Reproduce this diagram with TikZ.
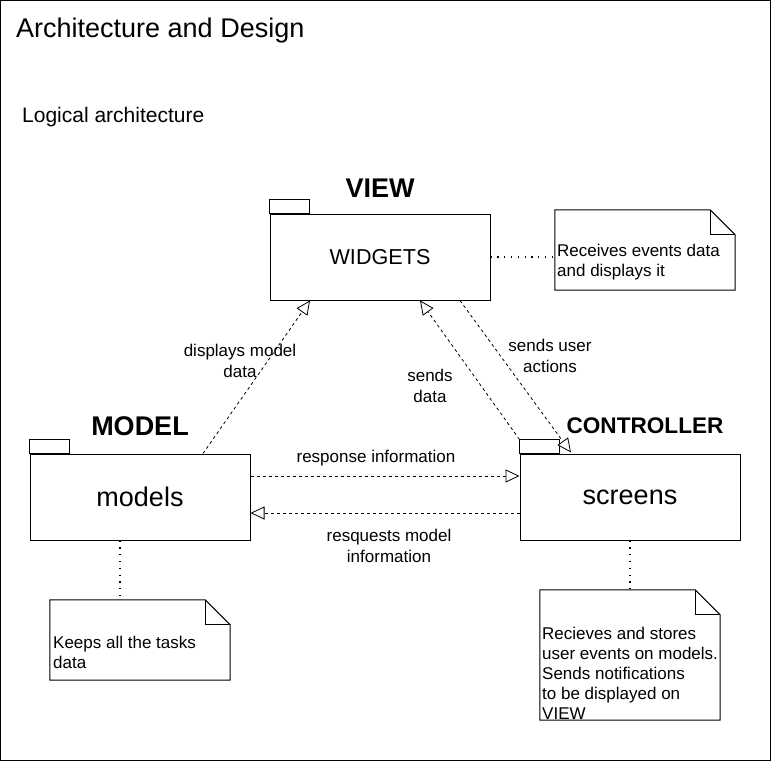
\documentclass[tikz,border=0pt]{standalone}
\usepackage{fontspec}
\setmainfont{Liberation Sans}
\usetikzlibrary{arrows.meta}

\tikzset{
  pkg/.style={draw, line width=1pt, minimum width=220pt, minimum height=86pt, inner sep=0pt},
  pkgname/.style={font=\bfseries\fontsize{27}{32}\selectfont},
  notebox/.style={minimum width=180pt, minimum height=80pt, inner sep=0pt},
  notetext/.style={anchor=west, align=left, inner sep=0pt, font=\fontsize{17}{20}\selectfont},
  flow/.style={draw, line width=0.8pt, dash pattern=on 3pt off 3pt, -{Triangle[open, length=14pt, width=13pt, fill=white]}},
  link/.style={draw, line width=1.3pt, dash pattern=on 1.3pt off 5.5pt},
  lbl/.style={align=center, inner sep=0pt, font=\fontsize{17}{21}\selectfont}
}

\begin{document}
\begin{tikzpicture}[x=1pt, y=-1pt]
  \useasboundingbox (0,0) rectangle (771,761);
  \draw[line width=1pt] (0.5,0.5) rectangle (770.5,760.5);
  % headings
  \node[anchor=west, inner sep=0pt, font=\fontsize{27}{32}\selectfont] (title) at (16,31) {Architecture and Design};
  \node[anchor=west, inner sep=0pt, font=\fontsize{21}{25}\selectfont] (logic) at (22,117) {Logical architecture};

  % packages
  \node[pkg, font=\fontsize{21.6}{26}\selectfont] (view) at (380,257) {WIDGETS};
  \node[pkg, font=\fontsize{27}{32}\selectfont] (model) at (140,497) {models};
  \node[pkg, font=\fontsize{27}{32}\selectfont] (ctrl) at (630,497) {screens};
  \foreach \p in {view,model,ctrl}
    \draw[line width=1pt] (\p.north west) rectangle ++(40,-14);
  \node[pkgname] (viewname) at (380,188) {VIEW};
  \node[pkgname] (modelname) at (140,426) {MODEL};
  \node[pkgname, font=\bfseries\fontsize{22.6}{27}\selectfont] (ctrlname) at (645,426) {CONTROLLER};

  % notes
  \node[notebox] (vnote) at (645,250) {};
  \node[notebox] (mnote) at (140,640) {};
  \node[notebox, minimum height=130pt] (cnote) at (630,655) {};
  \foreach \n in {vnote,mnote,cnote}{
    \draw[line width=1pt] (\n.north west) -- ([xshift=-25pt]\n.north east) -- ([yshift=-25pt]\n.north east)
      -- (\n.south east) -- (\n.south west) -- cycle;
    \draw[line width=1pt] ([xshift=-25pt]\n.north east) |- ([yshift=-25pt]\n.north east);
  }
  \node[notetext] (vtext) at (557,262) {Receives events data\\and displays it};
  \node[notetext] (mtext) at (53,652) {Keeps all the tasks\\data};
  \node[notetext] (ctext) at (542,673) {Recieves and stores\\user events on models.\\Sends notifications\\to be displayed on\\VIEW};

  % note links
  \draw[link] (view.east) -- (view.east -| vnote.west);
  \draw[link] ([xshift=-20pt]model.south) -- ([xshift=-20pt]mnote.north);
  \draw[link] (ctrl.south) -- (cnote.north);

  % flows
  \draw[flow] ([xshift=63pt]model.north) -- ([xshift=-70pt]view.south);
  \draw[flow] ([yshift=14pt]ctrl.north west) -- ([xshift=40pt]view.south);
  \draw[flow] ([xshift=80pt]view.south) -- ([xshift=-59pt, yshift=1pt]ctrl.north);
  \draw[flow] ([yshift=21pt]model.east) -- ([yshift=21pt]ctrl.west);
  \draw[flow] ([yshift=-16pt]ctrl.west) -- ([yshift=-16pt]model.east);

  % labels
  \node[lbl] (displbl) at (240,361) {displays model\\data};
  \node[lbl] (sendlbl) at (430,386) {sends\\data};
  \node[lbl] (userlbl) at (550,356) {sends user\\actions};
  \node[lbl] (resplbl) at (376,458) {response information};
  \node[lbl] (reqlbl) at (389,546) {resquests model\\information};
\end{tikzpicture}
\end{document}
